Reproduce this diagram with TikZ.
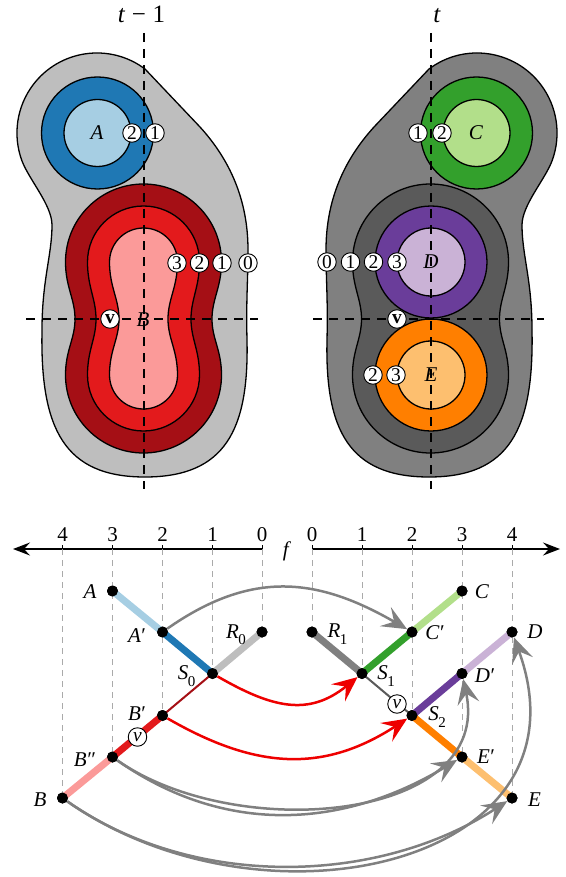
\documentclass[tikz,border=0pt]{standalone}
\usepackage{fontspec}
\setmainfont{Liberation Serif}
\usetikzlibrary{arrows.meta}
\definecolor{cLBlue}{HTML}{A6CEE3}
\definecolor{cBlue}{HTML}{1F78B4}
\definecolor{cLGreen}{HTML}{B2DF8A}
\definecolor{cGreen}{HTML}{33A02C}
\definecolor{cPink}{HTML}{FB9A99}
\definecolor{cRed}{HTML}{E31A1C}
\definecolor{cDRed}{HTML}{A50F15}
\definecolor{cLOrange}{HTML}{FDBF6F}
\definecolor{cOrange}{HTML}{FF7F00}
\definecolor{cLPurple}{HTML}{CAB2D6}
\definecolor{cPurple}{HTML}{6A3D9A}
\definecolor{cLGray}{HTML}{BEBEBE}
\definecolor{cMGray}{HTML}{808080}
\definecolor{cDGray}{HTML}{5A5A5A}
\definecolor{cArrGray}{HTML}{808080}
\definecolor{cArrRed}{HTML}{EE0000}
\definecolor{cGrid}{HTML}{AAAAAA}

\newcommand\peanut[4]{% cx, r, waist, colour
\filldraw[outline,fill=#4] ({#1+#2},-262) arc[start angle=0,end angle=180,radius=#2pt]
 .. controls ({#1-#2},-287) and ({#1-#3},-299) .. ({#1-#3},-319)
 .. controls ({#1-#3},-339) and ({#1-#2},-350) .. ({#1-#2},-375)
 arc[start angle=180,end angle=360,radius=#2pt]
 .. controls ({#1+#2},-350) and ({#1+#3},-339) .. ({#1+#3},-319)
 .. controls ({#1+#3},-299) and ({#1+#2},-287) .. cycle;}

\newcommand\blobshape[1]{%
\filldraw[outline,fill=#1] (145.1,-69.1) arc[start angle=53,end angle=200,radius=80pt]
 .. controls (28.6,-179.2) and (52,-205) .. (52,-225)
 .. controls (52,-255) and (42,-280) .. (42,-330)
 .. controls (40,-430) and (65,-477) .. (145,-477)
 .. controls (225,-477) and (249,-430) .. (247,-340)
 .. controls (246,-300) and (248,-280) .. (248,-250)
 .. controls (248,-200) and (230,-160) .. (200,-127) -- cycle;}

\newcommand\lsub[2]{\textit{#1}\kern-0.5pt\raisebox{-0.3em}{\fontsize{15}{15}\selectfont #2}}
\newcommand\lpr[1]{\textit{#1}\kern0.5pt′}
\newcommand\lpp[1]{\textit{#1}\kern0.5pt″}

\begin{document}
\begin{tikzpicture}[x=1pt,y=1pt,
  outline/.style={draw=black,line width=1.3pt},
  mk/.style={circle,draw=black,fill=white,line width=0.9pt,inner sep=0pt,minimum size=18.5pt,font=\fontsize{19.5}{20}\selectfont},
  lbl/.style={inner sep=0pt,font=\fontsize{21}{24}\selectfont},
  big/.style={inner sep=0pt,font=\fontsize{25}{30}\selectfont},
  dot/.style={circle,fill=black,inner sep=0pt,minimum size=11pt},
  guide/.style={draw=black,line width=1.3pt,dash pattern=on 9pt off 7pt},
  gridline/.style={draw=cGrid,line width=1pt,dash pattern=on 6pt off 5pt},
  axisline/.style={draw=black,line width=1.3pt,-{Stealth[length=17pt,width=13pt,inset=6pt]}},
  band/.style={line width=7pt},
  slim/.style={line width=2pt},
  arr/.style={line width=2.5pt,-{Stealth[length=25pt,width=22pt,inset=10pt]}},
]
\useasboundingbox (0,0) rectangle (565,-877);

% ---------- left component (t-1)
\blobshape{cLGray}
\peanut{143.5}{78}{68.5}{cDRed}
\peanut{143.5}{56}{47.5}{cRed}
\peanut{143.5}{34}{24.5}{cPink}
\filldraw[outline,fill=cBlue] (97.5,-133) circle[radius=56pt];
\filldraw[outline,fill=cLBlue] (97.5,-133) circle[radius=33.5pt];

% ---------- right component (t)
\begin{scope}[xshift=574pt,xscale=-1]
\blobshape{cMGray}
\end{scope}
\peanut{430.5}{78}{69}{cDGray}
\filldraw[outline,fill=cPurple] (431,-262) circle[radius=56pt];
\filldraw[outline,fill=cLPurple] (431,-262) circle[radius=34pt];
\filldraw[outline,fill=cOrange] (431,-375) circle[radius=56pt];
\filldraw[outline,fill=cLOrange] (431,-375) circle[radius=34pt];
\filldraw[outline,fill=cGreen] (476.5,-133) circle[radius=56pt];
\filldraw[outline,fill=cLGreen] (476.5,-133) circle[radius=33.5pt];

% ---------- dashed guides
\coordinate (vL1) at (144,-33);  \coordinate (vL2) at (144,-489);
\coordinate (hL1) at (26,-319);  \coordinate (hL2) at (258,-319);
\coordinate (vR1) at (431,-33);  \coordinate (vR2) at (431,-489);
\coordinate (hR1) at (313,-319); \coordinate (hR2) at (544,-319);
\draw[guide] (vL1) -- (vL2);
\draw[guide] (hL1) -- (hL2);
\draw[guide] (vR1) -- (vR2);
\draw[guide] (hR1) -- (hR2);

% ---------- top labels
\node[big,anchor=base] (tL) at (141.5,-23) {\textit{t}\kern6.5pt−\kern6.5pt1};
\node[big,anchor=base] (tR) at (437,-22.5) {\textit{t}};
\node[lbl] (lblA) at (97,-133) {\textit{A}};
\node[lbl] (lblB) at (143,-320) {\textit{B}};
\node[lbl] (lblC) at (476,-133) {\textit{C}};
\node[lbl] (lblD) at (431,-262) {\textit{D}};
\node[lbl] (lblE) at (431,-375) {\textit{E}};

% ---------- level markers
\node[mk] (mA2) at (132,-133) {2};
\node[mk] (mA1) at (155,-133) {1};
\node[mk] (mB3) at (177,-263) {3};
\node[mk] (mB2) at (199.5,-263) {2};
\node[mk] (mB1) at (222,-263) {1};
\node[mk] (mB0) at (248,-263) {0};
\node[mk] (mBv) at (110,-319) {\textbf{v}};
\node[mk] (mC1) at (418,-133) {1};
\node[mk] (mC2) at (442,-133) {2};
\node[mk] (mD0) at (327,-262) {0};
\node[mk] (mD1) at (350.5,-262) {1};
\node[mk] (mD2) at (373.5,-262) {2};
\node[mk] (mD3) at (397,-262) {3};
\node[mk] (mE2) at (373,-375) {2};
\node[mk] (mE3) at (396,-375) {3};
\node[mk] (mDv) at (397,-319) {\textbf{v}};

% ---------- axis
\coordinate (axLend) at (13,-549);  \coordinate (axL0) at (262,-549);
\coordinate (axR0) at (312,-549);   \coordinate (axRend) at (560,-549);
\draw[axisline] (axL0) -- (axLend);
\draw[axisline] (axR0) -- (axRend);
\foreach \nm/\xx in {gL4/62.5,gL3/112.5,gL2/162.5,gL1/212.5,gL0/262,gR0/312,gR1/362,gR2/412,gR3/462,gR4/512}{
  \coordinate (\nm) at (\xx,-549);
  \draw[line width=1pt] (\nm) ++(0,4) -- ++(0,-8);
}
\node[lbl,anchor=base] (kL4) at (62.5,-541) {4};
\node[lbl,anchor=base] (kL3) at (112.5,-541) {3};
\node[lbl,anchor=base] (kL2) at (162.5,-541) {2};
\node[lbl,anchor=base] (kL1) at (212.5,-541) {1};
\node[lbl,anchor=base] (kL0) at (262,-541) {0};
\node[lbl,anchor=base] (kR0) at (312,-541) {0};
\node[lbl,anchor=base] (kR1) at (362,-541) {1};
\node[lbl,anchor=base] (kR2) at (412,-541) {2};
\node[lbl,anchor=base] (kR3) at (462,-541) {3};
\node[lbl,anchor=base] (kR4) at (512,-541) {4};
\node[lbl] (fLab) at (287,-551) {\textit{f}};

% ---------- tree nodes
\node[dot] (A)   at (112.5,-591) {};
\node[dot] (Ap)  at (162.5,-632) {};
\node[dot] (S0)  at (212.5,-673.5) {};
\node[dot] (R0)  at (262,-632) {};
\node[dot] (Bp)  at (162.5,-715.5) {};
\node[dot] (Bpp) at (112.5,-757) {};
\node[dot] (B)   at (62.5,-798) {};
\node[dot] (R1)  at (312,-632) {};
\node[dot] (S1)  at (362,-673.5) {};
\node[dot] (Cp)  at (412,-632) {};
\node[dot] (C)   at (462,-591) {};
\node[dot] (S2)  at (412,-715.5) {};
\node[dot] (Dp)  at (462,-673.5) {};
\node[dot] (D)   at (512,-632) {};
\node[dot] (Ep)  at (462,-757) {};
\node[dot] (E)   at (512,-798) {};

% grid lines
\draw[gridline] (gL4) -- (B.center);
\draw[gridline] (gL3) -- (Bpp.center);
\draw[gridline] (gL2) -- (Bp.center);
\draw[gridline] (gL1) -- (S0.center);
\draw[gridline] (gL0) -- (R0.center);
\draw[gridline] (gR0) -- (R1.center);
\draw[gridline] (gR1) -- (S1.center);
\draw[gridline] (gR2) -- (S2.center);
\draw[gridline] (gR3) -- (Ep.center);
\draw[gridline] (gR4) -- (E.center);

% branches
\draw[band,cLBlue] (A.center) -- (Ap.center);
\draw[band,cBlue] (Ap.center) -- (S0.center);
\draw[band,cLGray] (R0.center) -- (S0.center);
\draw[slim,cDRed] (S0.center) -- (Bp.center);
\draw[band,cRed] (Bp.center) -- (Bpp.center);
\draw[band,cPink] (Bpp.center) -- (B.center);
\draw[band,cMGray] (R1.center) -- (S1.center);
\draw[band,cGreen] (S1.center) -- (Cp.center);
\draw[band,cLGreen] (Cp.center) -- (C.center);
\draw[slim,cDGray] (S1.center) -- (S2.center);
\draw[band,cPurple] (S2.center) -- (Dp.center);
\draw[band,cLPurple] (Dp.center) -- (D.center);
\draw[band,cOrange] (S2.center) -- (Ep.center);
\draw[band,cLOrange] (Ep.center) -- (E.center);

% matching arrows
\draw[arr,cArrGray] (Ap) to[out=35,in=150,looseness=1.1] (Cp);
\draw[arr,cArrRed] (S0) to[out=-30,in=219,looseness=1.15] (S1);
\draw[arr,cArrRed] (Bp) to[out=-30,in=213,looseness=1.08] (S2);
\draw[arr,cArrGray] (Bpp) to[out=-35,in=211] (Ep);
\draw[arr,cArrGray] (Bpp) to[out=-35,in=-78,looseness=1.05] (Dp);
\draw[arr,cArrGray] (B) to[out=-35,in=213,looseness=0.9] (E);
\draw[arr,cArrGray] (B) to[out=-35,in=-70,looseness=1.3] (D);

% redraw dots on top
\foreach \n in {A,Ap,S0,R0,Bp,Bpp,B,R1,S1,Cp,C,S2,Dp,D,Ep,E}{
  \fill (\n) circle[radius=5.5pt];
}

% v markers on the tree
\node[mk] (vL) at (137.5,-737) {\textit{v}};
\node[mk] (vR) at (397,-704) {\textit{v}};

% tree labels
\node[lbl] (lA)   at (90,-592) {\textit{A}};
\node[lbl] (lAp)  at (137,-636) {\lpr{A}};
\node[lbl] (lR0)  at (236,-635) {\lsub{R}{0}};
\node[lbl] (lS0)  at (186.5,-676) {\lsub{S}{0}};
\node[lbl] (lR1)  at (337.5,-634) {\lsub{R}{1}};
\node[lbl] (lS1)  at (386,-676) {\lsub{S}{1}};
\node[lbl] (lC)   at (482,-592) {\textit{C}};
\node[lbl] (lCp)  at (435,-633) {\lpr{C}};
\node[lbl] (lD)   at (535,-632) {\textit{D}};
\node[lbl] (lDp)  at (485,-676) {\lpr{D}};
\node[lbl] (lS2)  at (437,-717) {\lsub{S}{2}};
\node[lbl] (lEp)  at (486,-757) {\lpr{E}};
\node[lbl] (lE)   at (534.5,-799.5) {\textit{E}};
\node[lbl] (lBp)  at (137,-714) {\lpr{B}};
\node[lbl] (lBpp) at (85,-760) {\lpp{B}};
\node[lbl] (lB)   at (40,-799.5) {\textit{B}};
\end{tikzpicture}
\end{document}
